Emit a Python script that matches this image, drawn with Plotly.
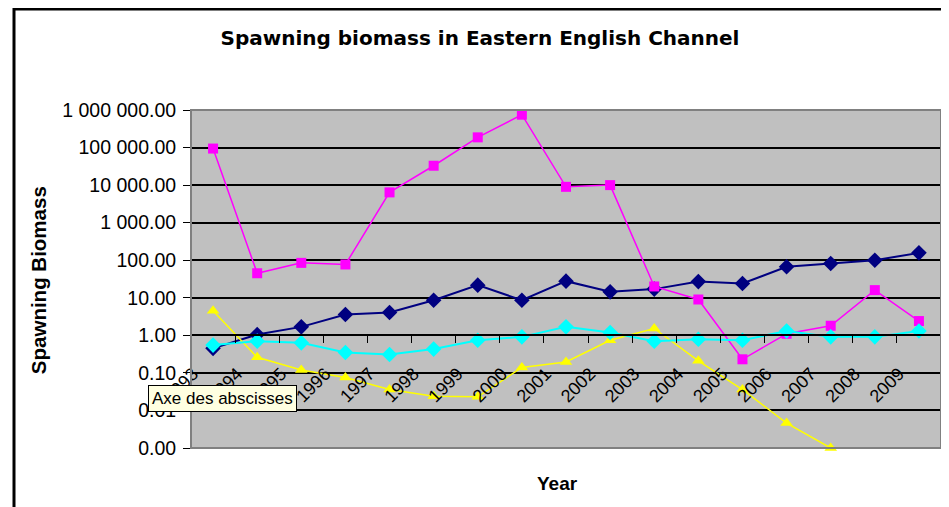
import plotly.graph_objects as go

years = [str(y) for y in range(1993, 2010)]
navy_vals = [0.45, 1.05, 1.68, 3.6, 4.05, 8.6, 21.7, 8.6, 27.7, 14.4, 17.0, 27.0, 24.0, 67.0, 82.0, 100.0, 157.0]
magenta_vals = [94000, 45, 85, 77, 6400, 32800, 187000, 750000, 9000, 10000, 20, 9, 0.23, 1.1, 1.8, 16, 2.4]
yellow_vals = [4.5, 0.26, 0.12, 0.075, 0.036, 0.024, 0.023, 0.14, 0.196, 0.74, 1.52, 0.21, 0.036, 0.0046, 0.001, None, None]
cyan_vals = [0.55, 0.70, 0.63, 0.35, 0.31, 0.43, 0.74, 0.91, 1.68, 1.19, 0.70, 0.79, 0.74, 1.31, 0.91, 0.91, 1.31]

y_tickvals = [0.001, 0.01, 0.1, 1, 10, 100, 1000, 10000, 100000, 1000000]
y_ticktext = ["0.00", "0.01", "0.10", "1.00", "10.00", "100.00", "1 000.00",
              "10 000.00", "100 000.00", "1 000 000.00"]

# page body margin offsets the figure by 8px
OFF = 8
W, H = 949 - OFF, 507 - OFF
# plot area in screenshot pixels
L, R, T, B = 191, 941, 110, 447.7


def px(x):
    return (x - L) / (R - L)


def py(y):
    return (B - y) / (B - T)


FONT = "Liberation Sans, Arial, sans-serif"

fig = go.Figure()
series = [
    ("Series1", navy_vals, "#000080", "diamond", 12, 2),
    ("Series2", magenta_vals, "#FF00FF", "square", 10, 1.5),
    ("Series3", yellow_vals, "#FFFF00", "triangle-up", 11, 1.5),
    ("Series4", cyan_vals, "#00FFFF", "diamond", 12, 2),
]
for name, vals, col, sym, ms, lw in series:
    fig.add_trace(go.Scatter(
        x=years, y=vals, name=name, mode="lines+markers",
        line=dict(color=col, width=lw),
        marker=dict(color=col, symbol=sym, size=ms, line=dict(width=0)),
        cliponaxis=False, connectgaps=False,
    ))

fig.update_layout(
    width=W, height=H,
    margin=dict(l=L - OFF, r=W - (R - OFF), t=T - OFF, b=H - (B - OFF), pad=0),
    paper_bgcolor="white",
    plot_bgcolor="#C0C0C0",
    showlegend=False,
    font=dict(family=FONT, color="black", size=17),
    title=dict(text="<b>Spawning biomass in Eastern English Channel</b>",
               x=(480 - OFF) / W, xanchor="center", y=1 - (38 - OFF) / H, yanchor="middle",
               font=dict(family="DejaVu Sans, Verdana, sans-serif", size=20, color="black")),
    xaxis=dict(
        type="category", range=[-0.5, 16.5],
        anchor="free", position=1 / 3,
        showline=True, linecolor="black", linewidth=2,
        ticks="outside", ticklen=7, tickcolor="black", tickwidth=1,
        tickson="boundaries", showgrid=False, zeroline=False,
        tickangle=-45, tickfont=dict(size=18, family=FONT),
        ticklabelstandoff=20, ticklabelshift=-20,
    ),
    yaxis=dict(
        type="log", range=[-3, 6],
        tickvals=y_tickvals, ticktext=y_ticktext,
        showline=True, linecolor="black", linewidth=1,
        ticks="outside", ticklen=7, tickcolor="black",
        showgrid=True, gridcolor="black", gridwidth=2,
        tickfont=dict(size=19.5, family=FONT), zeroline=False,
        ticklabelstandoff=3,
    ),
    shapes=[
        dict(type="rect", xref="paper", yref="paper", x0=0, x1=1, y0=0, y1=1,
             line=dict(color="#808080", width=2), layer="above"),
        dict(type="rect", xref="paper", yref="paper", x0=px(14), x1=px(980),
             y0=py(9), y1=py(540), line=dict(color="black", width=3)),
    ],
    annotations=[
        dict(text="<b>Spawning Biomass</b>", xref="paper", yref="paper",
             x=px(38), y=py(280), textangle=-90, showarrow=False,
             xanchor="center", yanchor="middle",
             font=dict(size=20.5, family=FONT, color="black")),
        dict(text="<b>Year</b>", xref="paper", yref="paper",
             x=px(557), y=py(483), showarrow=False,
             xanchor="center", yanchor="middle",
             font=dict(size=19, family=FONT, color="black")),
        dict(text="Axe des abscisses", xref="paper", yref="paper",
             x=px(148), y=py(398), showarrow=False,
             xanchor="left", yanchor="middle",
             bgcolor="#FFFFE1", bordercolor="black", borderwidth=1, borderpad=3,
             font=dict(size=17, family=FONT, color="black")),
    ],
)

fig.write_html("out.html")
